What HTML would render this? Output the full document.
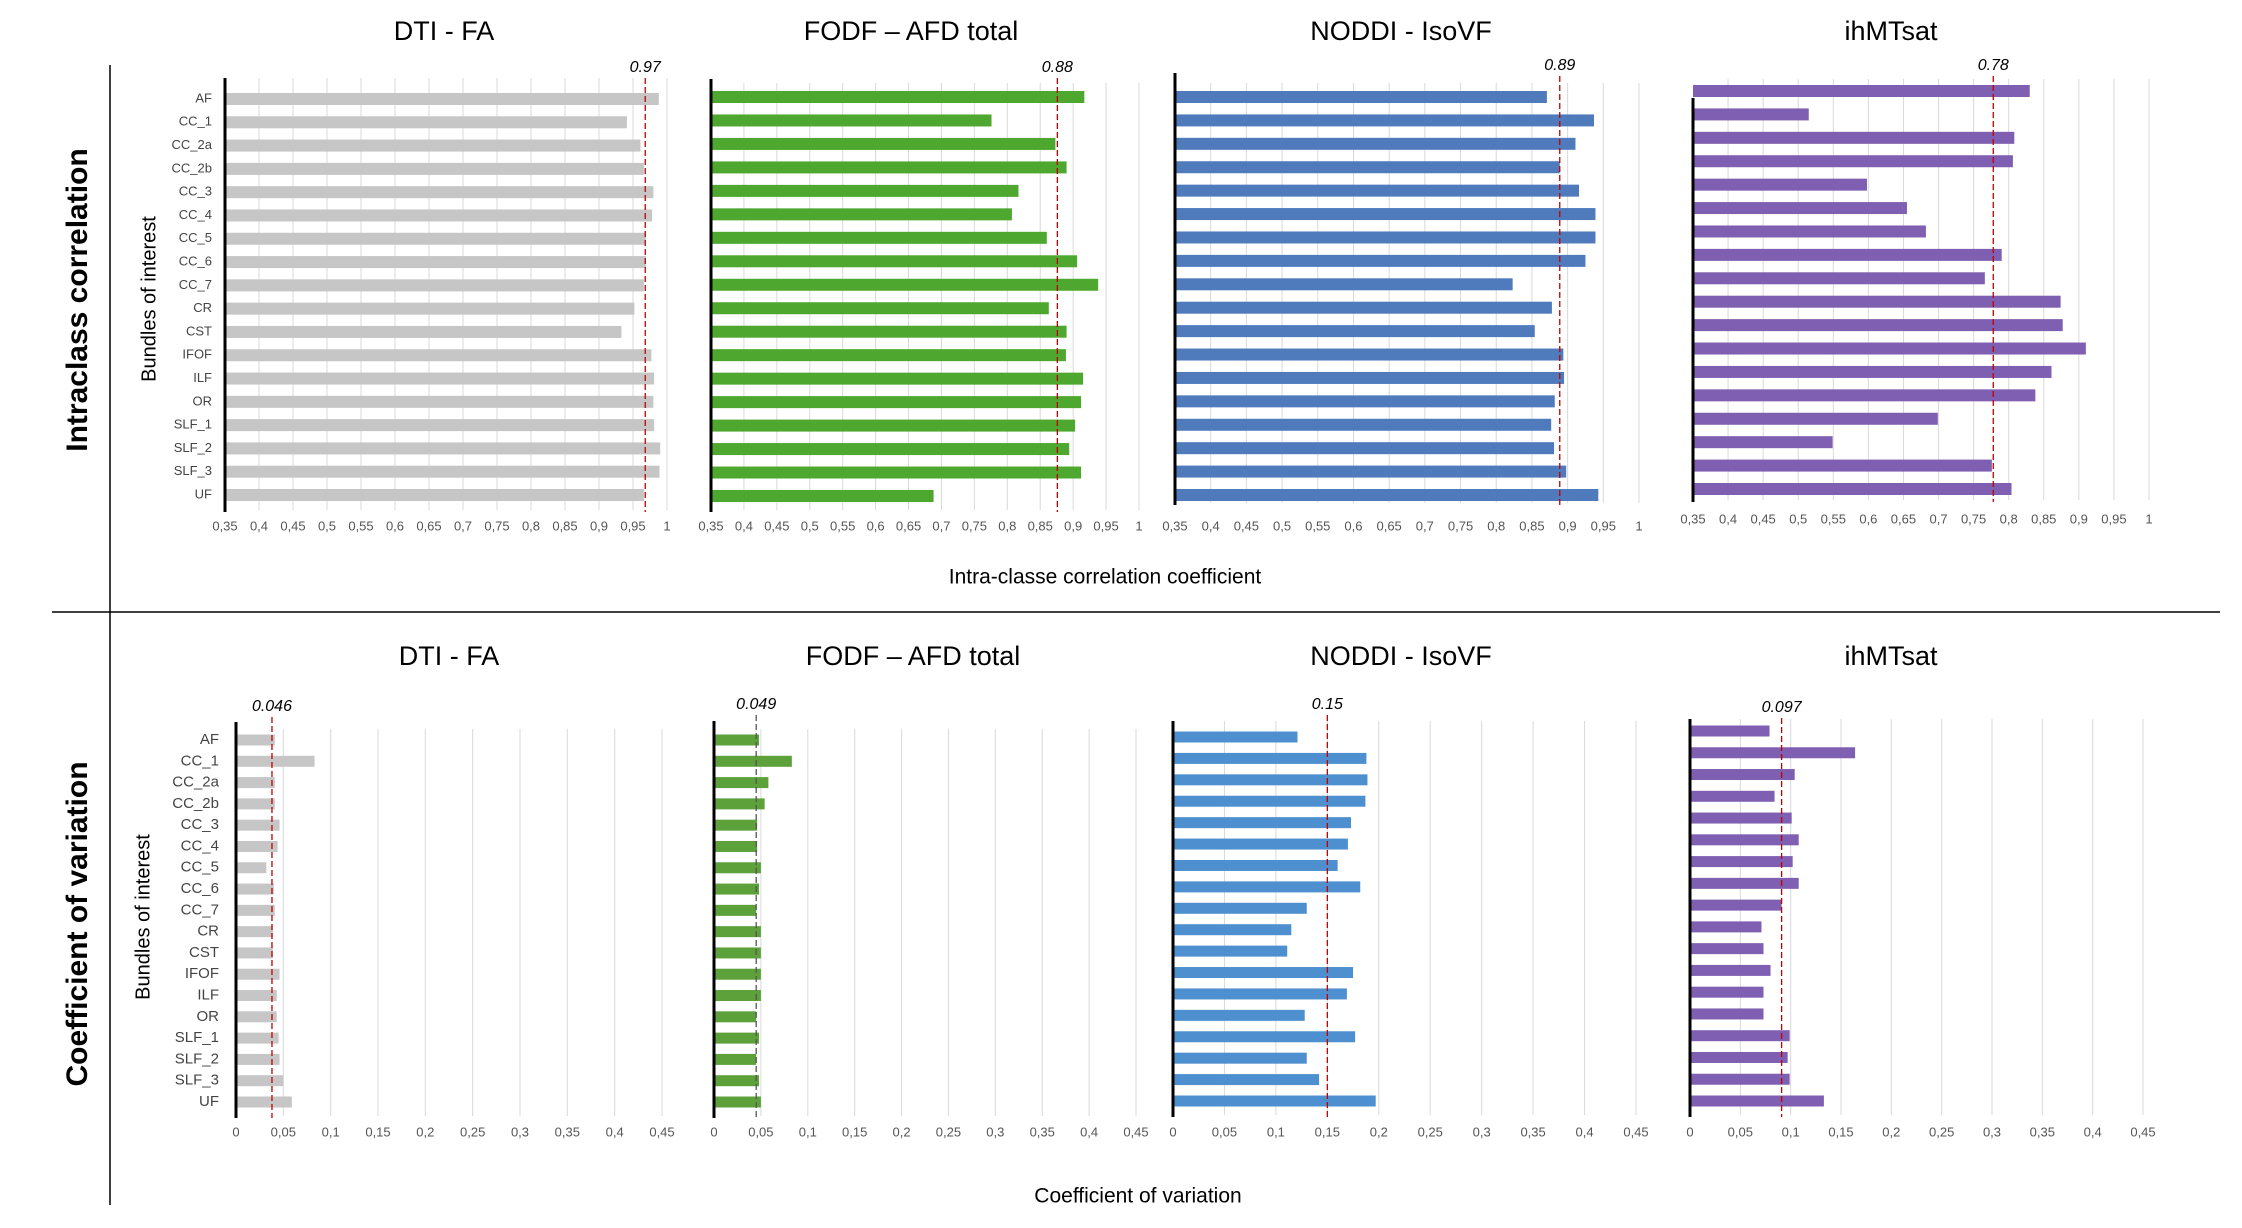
<!DOCTYPE html>
<html><head><meta charset="utf-8">
<style>
html,body{margin:0;padding:0;background:#fff;}
svg{display:block;font-family:"Liberation Sans",sans-serif;}
.n{font-family:"Liberation Sans Narrow","Liberation Sans",sans-serif;}
</style></head>
<body>
<svg id="fig" width="2242" height="1228" viewBox="0 0 2242 1228" xmlns="http://www.w3.org/2000/svg">
<line x1="110" y1="65" x2="110" y2="1205" stroke="#000" stroke-width="1.5"/>
<line x1="52" y1="612" x2="2220" y2="612" stroke="#000" stroke-width="1.5"/>
<text x="79" y="300" transform="rotate(-90 79 300)" text-anchor="middle" dominant-baseline="middle" font-size="30" font-weight="bold">Intraclass correlation</text>
<text x="79" y="924" transform="rotate(-90 79 924)" text-anchor="middle" dominant-baseline="middle" font-size="30" font-weight="bold">Coefficient of variation</text>
<text x="150" y="299" transform="rotate(-90 150 299)" text-anchor="middle" dominant-baseline="middle" font-size="20">Bundles of interest</text>
<text x="144" y="917" transform="rotate(-90 144 917)" text-anchor="middle" dominant-baseline="middle" font-size="20">Bundles of interest</text>
<text x="1105" y="578" text-anchor="middle" dominant-baseline="middle" font-size="21">Intra-classe correlation coefficient</text>
<text x="1138" y="1197" text-anchor="middle" dominant-baseline="middle" font-size="21">Coefficient of variation</text>
<g id="charts"></g>
</svg>
<script>
const categories = ["AF","CC_1","CC_2a","CC_2b","CC_3","CC_4","CC_5","CC_6","CC_7","CR","CST","IFOF","ILF","OR","SLF_1","SLF_2","SLF_3","UF"];
const iccTicks = [0.35,0.4,0.45,0.5,0.55,0.6,0.65,0.7,0.75,0.8,0.85,0.9,0.95,1];
const cvTicks = [0,0.05,0.1,0.15,0.2,0.25,0.3,0.35,0.4,0.45];
const iccDtiFa = [0.988,0.941,0.961,0.966,0.98,0.978,0.969,0.969,0.966,0.952,0.933,0.977,0.981,0.98,0.981,0.99,0.989,0.966];
const iccFodf = [0.917,0.776,0.873,0.89,0.817,0.807,0.86,0.906,0.938,0.863,0.89,0.889,0.915,0.912,0.903,0.894,0.912,0.688];
const iccNoddi = [0.871,0.937,0.911,0.889,0.916,0.939,0.939,0.925,0.823,0.878,0.854,0.894,0.895,0.882,0.877,0.881,0.898,0.943];
const iccIhmt = [0.83,0.515,0.808,0.806,0.598,0.655,0.682,0.79,0.766,0.874,0.877,0.91,0.861,0.838,0.699,0.549,0.776,0.804];
const cvDtiFa = [0.041,0.083,0.041,0.041,0.046,0.044,0.032,0.04,0.041,0.039,0.039,0.046,0.043,0.043,0.045,0.046,0.05,0.059];
const cvFodf = [0.048,0.083,0.058,0.054,0.046,0.046,0.05,0.048,0.045,0.05,0.05,0.05,0.05,0.045,0.048,0.045,0.048,0.05];
const cvNoddi = [0.121,0.188,0.189,0.187,0.173,0.17,0.16,0.182,0.13,0.115,0.111,0.175,0.169,0.128,0.177,0.13,0.142,0.197];
const cvIhmt = [0.079,0.164,0.104,0.084,0.101,0.108,0.102,0.108,0.091,0.071,0.073,0.08,0.073,0.073,0.099,0.097,0.099,0.133];
const refValues = [0.968,0.876,0.889,0.778,0.038,0.045,0.15,0.091];
const refLabels = ["0.97","0.88","0.89","0.78","0.046","0.049","0.15","0.097"];
const panelTitles = ["DTI - FA","FODF \u2013 AFD total","NODDI - IsoVF","ihMTsat","DTI - FA","FODF \u2013 AFD total","NODDI - IsoVF","ihMTsat"];

const NS="http://www.w3.org/2000/svg";
const root=document.getElementById('charts');
function mk(tag,attrs,parent){const e=document.createElementNS(NS,tag);for(const k in attrs)e.setAttribute(k,attrs[k]);(parent||root).appendChild(e);return e;}

// layout (pixels)
const layouts=[
 {x0:225,x1:667,v0:0.35,v1:1,axT:78,axB:512,b0:99,b1:495,tickY:527,lblY:68,titleX:444,titleY:33,bh:12,color:"#c6c6c6",grid0:78,labels:true,lblX:212,lf:13,ls:"#e7e7e7",data:iccDtiFa},
 {x0:711,x1:1139,v0:0.35,v1:1,axT:79,axB:512,b0:97,b1:496,tickY:527,lblY:68,titleX:911,titleY:33,bh:12,color:"#4ea72e",grid0:83,labels:false,data:iccFodf},
 {x0:1175,x1:1639,v0:0.35,v1:1,axT:73,axB:505,b0:97,b1:495,tickY:527,lblY:66,titleX:1401,titleY:33,bh:12,color:"#4f7bbd",grid0:83,labels:false,data:iccNoddi},
 {x0:1693,x1:2149,v0:0.35,v1:1,axT:98,axB:502,b0:91,b1:489,tickY:520,lblY:66,titleX:1891,titleY:33,bh:12,color:"#7f5fb1",grid0:79,labels:false,data:iccIhmt},
 {x0:236,x1:662,v0:0,v1:0.45,axT:722,axB:1118,b0:740,b1:1102,tickY:1133,lblY:707,titleX:449,titleY:658,bh:11,color:"#c6c6c6",grid0:729,labels:true,lblX:219,data:cvDtiFa},
 {x0:714,x1:1136,v0:0,v1:0.45,axT:721,axB:1118,b0:740,b1:1102,tickY:1133,lblY:705,titleX:913,titleY:658,bh:11,color:"#5da13b",grid0:729,labels:false,data:cvFodf},
 {x0:1173,x1:1636,v0:0,v1:0.45,axT:721,axB:1117,b0:737,b1:1101,tickY:1133,lblY:705,titleX:1401,titleY:658,bh:11,color:"#4e90cf",grid0:721,labels:false,data:cvNoddi},
 {x0:1690,x1:2143,v0:0,v1:0.45,axT:719,axB:1117,b0:731,b1:1101,tickY:1133,lblY:708,titleX:1891,titleY:658,bh:11,color:"#7f5fb1",grid0:719,labels:false,data:cvIhmt}
];
const names=["icc-dti-fa","icc-fodf-afd","icc-noddi-isovf","icc-ihmtsat","cv-dti-fa","cv-fodf-afd","cv-noddi-isovf","cv-ihmtsat"];

layouts.forEach((L,p)=>{
  const g=mk('g',{});
  
  
  const sx=v=>L.x0+(v-L.v0)/(L.v1-L.v0)*(L.x1-L.x0);
  const n=categories.length;
  const sy=i=>L.b0+(L.b1-L.b0)*i/(n-1);
  const ticks=p<4?iccTicks:cvTicks;
  // title
  const t=mk('text',{x:L.titleX,y:L.titleY,'text-anchor':'middle','dominant-baseline':'middle','font-size':27},g);
  t.textContent=panelTitles[p];
  
  
  // gridlines
  ticks.forEach((tv,i)=>{
    if(i===0) return;
    const gl=mk('line',{x1:sx(tv),x2:sx(tv),y1:L.grid0,y2:L.axB-2,stroke:"#d9d9d9","stroke-width":1},g);
    
    
  });
  // tick labels
  ticks.forEach(tv=>{
    const tl=mk('text',{x:sx(tv),y:L.tickY,'text-anchor':'middle','dominant-baseline':'middle','font-size':13,fill:"#555",class:"n"},g);
    tl.textContent=String(tv).replace('.',',');
    
    
  });
  // bars
  L.data.forEach((v,i)=>{
    const r=mk('rect',{x:L.x0,y:sy(i)-L.bh/2,width:Math.max(0,sx(v)-L.x0),height:L.bh,fill:L.color},g);
    
    
    if(L.labels){
      const cl=mk('text',{x:L.lblX,y:sy(i),'text-anchor':'end','dominant-baseline':'middle','font-size':p<4?13:15,fill:"#444",class:"n"},g);
      cl.textContent=categories[i];
      
      
    }
  });
  // axis
  const ax=mk('line',{x1:L.x0,x2:L.x0,y1:L.axT,y2:L.axB,stroke:"#000","stroke-width":3},g);
  
  
  // ref line
  const rx=sx(refValues[p]);
  const rl=mk('line',{x1:rx,x2:rx,y1:L.lblY+10,y2:L.axB,stroke:p===5?"#555":"#c00000","stroke-width":1.3,"stroke-dasharray":"6 3"},g);
  
  
  const rt=mk('text',{x:rx,y:L.lblY,'text-anchor':'middle','dominant-baseline':'middle','font-size':16,'font-style':'italic',class:"n"},g);
  rt.textContent=refLabels[p];
  
  
});
</script>
</body></html>
